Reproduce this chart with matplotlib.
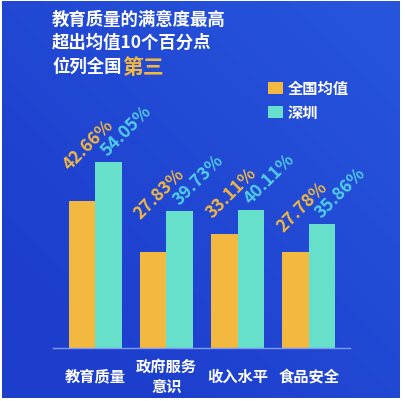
import matplotlib
matplotlib.use("Agg")
import matplotlib.pyplot as plt
import numpy as np

plt.rcParams['font.family'] = ['Noto Sans CJK SC', 'DejaVu Sans']

# data
categories = ["教育质量", "政府服务\n意识", "收入水平", "食品安全"]
national_avg = [42.66, 27.83, 33.11, 27.78]
shenzhen = [54.05, 39.73, 40.11, 35.86]
series_names = ["全国均值", "深圳"]

ORANGE = "#F2B840"
TEAL = "#66DFCB"
TEAL_TEXT = "#52CFE6"
W, H = 405, 402

fig = plt.figure(figsize=(W / 100, H / 100), dpi=100)
fig.patch.set_facecolor("white")

# blue gradient background
bg = fig.add_axes([2 / W, 3 / H, 398 / W, 397 / H])
gx, gy = np.meshgrid(np.linspace(0, 1, 200), np.linspace(0, 1, 200))
t = np.clip(0.6 * gx + 0.6 * (1 - gy) - 0.2, 0, 1)
c0 = np.array([0x1D, 0x3E, 0xCD]) / 255
c1 = np.array([0x27, 0x56, 0xDD]) / 255
img = c0[None, None, :] * (1 - t[..., None]) + c1[None, None, :] * t[..., None]
bg.imshow(img, aspect="auto", extent=(0, 1, 0, 1), origin="upper")
bg.axis("off")

# bar axes, placed so the baseline sits at y=349px
left_px, right_px, base_px = 53, 350, 349
ax = fig.add_axes([left_px / W, (H - base_px) / H, (right_px - left_px) / W, (base_px - 2) / H])
ax.patch.set_alpha(0)
step = 71.3
x = np.arange(len(categories))
bw = 26.5 / step
ax.set_xlim((left_px - 95) / step, (right_px - 95) / step)
ax.set_ylim(0, (base_px - 2) / 3.45)

b1 = ax.bar(x - bw / 2, national_avg, width=bw, color=ORANGE, label=series_names[0])
b2 = ax.bar(x + bw / 2, shenzhen, width=bw, color=TEAL, label=series_names[1])

# rotated value labels, the orange one sits under the teal one
for i in range(len(categories)):
    ax.annotate(f"{national_avg[i]:.2f}%", xy=(x[i] - bw, shenzhen[i]), xytext=(1, -8),
                textcoords="offset pixels", rotation=45, rotation_mode="anchor",
                ha="left", va="baseline", color=ORANGE, fontsize=12.5, fontweight="bold",
                annotation_clip=False)
    ax.annotate(f"{shenzhen[i]:.2f}%", xy=(x[i], shenzhen[i]), xytext=(13, 6),
                textcoords="offset pixels", rotation=45, rotation_mode="anchor",
                ha="left", va="baseline", color=TEAL_TEXT, fontsize=12.5, fontweight="bold",
                annotation_clip=False)

for s in ["top", "right", "left"]:
    ax.spines[s].set_visible(False)
ax.spines["bottom"].set_color("#7F9CF0")
ax.spines["bottom"].set_linewidth(1)
ax.set_yticks([])
ax.set_xticks(x)
ax.set_xticklabels(categories, color="white", fontsize=11, fontweight="bold", linespacing=1.3)
for lab in ax.get_xticklabels():
    lab.set_va("center")
ax.tick_params(axis="x", length=0, pad=20)

# legend
ax.legend(loc="upper left", bbox_to_anchor=(268 / W, 1 - 81 / H), bbox_transform=fig.transFigure,
          frameon=False, handlelength=1.0, handleheight=0.8, handletextpad=0.3,
          labelspacing=0.55, borderpad=0, borderaxespad=0, labelcolor="white",
          prop={"weight": "bold", "size": 11})

# title
fig.text(52 / W, 1 - 20 / H, "教育质量的满意度最高", color="white", fontsize=12.5,
         fontweight="bold", va="center", ha="left")
fig.text(52 / W, 1 - 43 / H, "超出均值10个百分点", color="white", fontsize=12.5,
         fontweight="bold", va="center", ha="left")
t3 = fig.text(52 / W, 1 - 67 / H, "位列全国", color="white", fontsize=12.5,
              fontweight="bold", va="center", ha="left")
ax.annotate("第三", xy=(1, 0.5), xycoords=t3, xytext=(1, 0), textcoords="offset pixels",
            color=ORANGE, fontsize=15, fontweight="bold", va="center", ha="left")

fig.savefig("out.png", dpi=100)
